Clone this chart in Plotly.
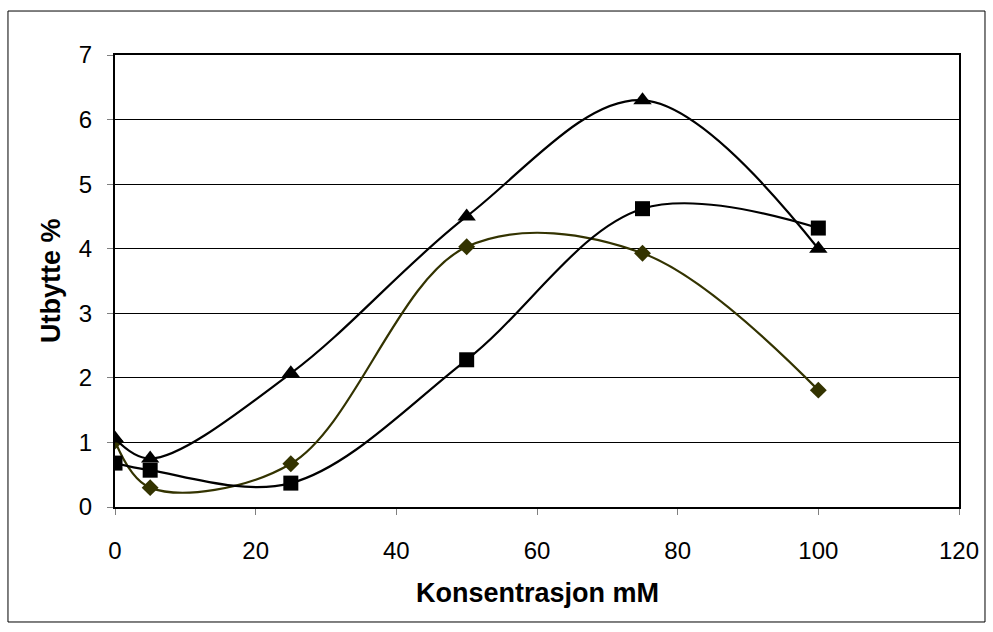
import plotly.graph_objects as go

konsentrasjon = [0, 5, 25, 50, 75, 100]
serie_trekant = [1.06, 0.75, 2.07, 4.5, 6.3, 4.0]
serie_firkant = [0.68, 0.57, 0.37, 2.28, 4.62, 4.32]
serie_rute = [1.02, 0.3, 0.67, 4.03, 3.93, 1.81]
x_ticks = [0, 20, 40, 60, 80, 100, 120]
y_ticks = [0, 1, 2, 3, 4, 5, 6, 7]

fig = go.Figure()
fig.add_trace(go.Scatter(x=konsentrasjon, y=serie_rute, mode="lines+markers",
                         line=dict(color="#333300", width=2.2, shape="spline", smoothing=1.0),
                         marker=dict(symbol="diamond", size=13, color="#333300")))
fig.add_trace(go.Scatter(x=konsentrasjon, y=serie_firkant, mode="lines+markers",
                         line=dict(color="black", width=2.2, shape="spline", smoothing=1.0),
                         marker=dict(symbol="square", size=15, color="black")))
fig.add_trace(go.Scatter(x=konsentrasjon, y=serie_trekant, mode="lines+markers",
                         line=dict(color="black", width=2.2, shape="spline", smoothing=1.0),
                         marker=dict(symbol="triangle-up", size=16, color="black")))

fig.update_layout(
    width=993, height=632, showlegend=False,
    paper_bgcolor="white", plot_bgcolor="white",
    margin=dict(l=115, r=34, t=55, b=125),
    font=dict(family="Arial, Liberation Sans", color="black", size=24),
    xaxis=dict(range=[0, 120], tickvals=x_ticks,
               showgrid=False, zeroline=False, showline=True, linecolor="black", linewidth=2,
               mirror=True, ticks="outside", ticklen=6, tickcolor="#808080",
               ticklabelstandoff=15, tickfont=dict(size=24)),
    yaxis=dict(range=[0, 7], tickvals=y_ticks,
               showgrid=True, gridcolor="black", gridwidth=1, zeroline=False,
               showline=True, linecolor="black", linewidth=2, mirror=True,
               ticks="outside", ticklen=6, tickcolor="#808080",
               ticklabelstandoff=10, tickfont=dict(size=24)),
    annotations=[
        dict(text="<b>Konsentrasjon mM</b>", xref="paper", yref="paper",
             x=0.5006, y=-0.190, xanchor="center", yanchor="middle",
             showarrow=False, font=dict(size=27)),
        dict(text="<b>Utbytte %</b>", xref="paper", yref="paper",
             x=-0.0758, y=0.5, xanchor="center", yanchor="middle", textangle=-90,
             showarrow=False, font=dict(size=27)),
    ],
    shapes=[dict(type="rect", xref="paper", yref="paper",
                 x0=-0.1268, x1=1.0308, y0=-0.2544, y1=1.0973,
                 line=dict(color="black", width=1), layer="below")],
)

fig.write_html("out.html")
